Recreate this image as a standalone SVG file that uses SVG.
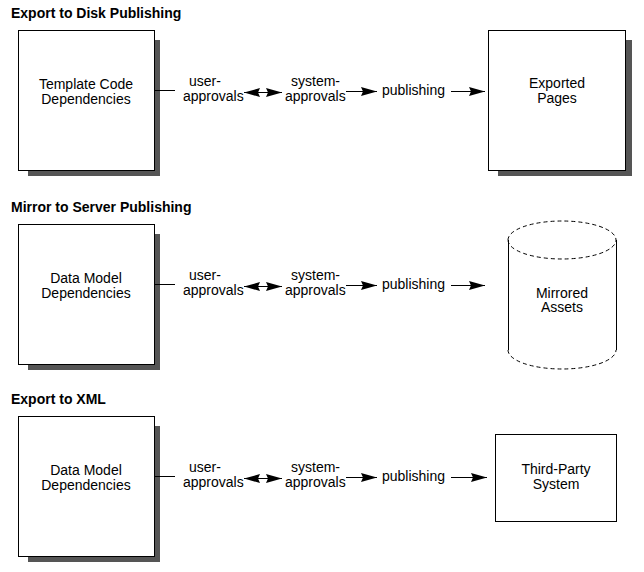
<svg xmlns="http://www.w3.org/2000/svg" width="644" height="572" viewBox="0 0 644 572">
<style>
.title{font-family:"Liberation Sans",Arial,sans-serif;font-size:14px;font-weight:bold;fill:#000}
.lbl{font-family:"Liberation Sans",Arial,sans-serif;font-size:14px;fill:#000}
.mid{text-anchor:middle}
.box{fill:#fff;stroke:#000;stroke-width:1}
.shadow{fill:#555;stroke:none}
.ln{stroke:#000;stroke-width:1;fill:none}
.dash{stroke:#000;stroke-width:1;fill:none;stroke-dasharray:4,3}
</style>
<defs>
<marker id="ah" viewBox="0 0 16 9" refX="16" refY="4.5" markerWidth="16" markerHeight="9" markerUnits="userSpaceOnUse" orient="auto-start-reverse">
<path d="M0,0 L16,4.5 L0,9 L2,4.5 Z" fill="#000"/>
</marker>
</defs>
<rect width="644" height="572" fill="#fff"/>

<text class="title" x="11" y="18">Export to Disk Publishing</text>
<text class="title" x="11" y="212">Mirror to Server Publishing</text>
<text class="title" x="11" y="404">Export to XML</text>

<g id="template-code">
<rect class="shadow" x="28" y="40" width="132" height="136"/>
<rect class="box" x="18.5" y="30.5" width="136" height="140"/>
<text class="lbl mid" x="86" y="89">Template Code</text>
<text class="lbl mid" x="86" y="103.5">Dependencies</text>
</g>
<g id="exported-pages">
<rect class="shadow" x="498" y="40" width="134" height="136"/>
<rect class="box" x="488.5" y="30.5" width="137" height="140"/>
<text class="lbl mid" x="557" y="88">Exported</text>
<text class="lbl mid" x="557" y="102.5">Pages</text>
</g>

<g id="data-model-1">
<rect class="shadow" x="28" y="234" width="132" height="136"/>
<rect class="box" x="18.5" y="224.5" width="136" height="140"/>
<text class="lbl mid" x="86" y="283">Data Model</text>
<text class="lbl mid" x="86" y="297.5">Dependencies</text>
</g>
<g id="mirrored-assets">
<path class="dash" d="M508,240 A54,19 0 0 1 616,240 A54,19 0 0 1 508,240 Z"/>
<path class="ln" d="M508.5,240 V350 M616.5,240 V350"/>
<path class="dash" d="M508,350 A54,19 0 0 0 616,350"/>
<text class="lbl mid" x="562" y="297.5">Mirrored</text>
<text class="lbl mid" x="562" y="312">Assets</text>
</g>

<g id="data-model-2">
<rect class="shadow" x="28" y="426" width="132" height="136"/>
<rect class="box" x="18.5" y="416.5" width="136" height="140"/>
<text class="lbl mid" x="86" y="475">Data Model</text>
<text class="lbl mid" x="86" y="489.5">Dependencies</text>
</g>
<g id="third-party">
<rect class="box" x="495.5" y="434.5" width="121" height="87"/>
<text class="lbl mid" x="556" y="474">Third-Party</text>
<text class="lbl mid" x="556" y="488.5">System</text>
</g>

<g id="connectors">
<line class="ln" x1="154" y1="90.5" x2="175" y2="90.5"/>
<line class="ln" x1="244" y1="92.5" x2="282" y2="92.5" marker-start="url(#ah)" marker-end="url(#ah)"/>
<line class="ln" x1="346" y1="91.5" x2="377" y2="91.5" marker-end="url(#ah)"/>
<line class="ln" x1="451" y1="91.5" x2="485" y2="91.5" marker-end="url(#ah)"/>

<line class="ln" x1="154" y1="284.5" x2="175" y2="284.5"/>
<line class="ln" x1="244" y1="286.5" x2="282" y2="286.5" marker-start="url(#ah)" marker-end="url(#ah)"/>
<line class="ln" x1="346" y1="285.5" x2="377" y2="285.5" marker-end="url(#ah)"/>
<line class="ln" x1="451" y1="285.5" x2="485" y2="285.5" marker-end="url(#ah)"/>

<line class="ln" x1="154" y1="476.5" x2="175" y2="476.5"/>
<line class="ln" x1="244" y1="478.5" x2="282" y2="478.5" marker-start="url(#ah)" marker-end="url(#ah)"/>
<line class="ln" x1="346" y1="477.5" x2="377" y2="477.5" marker-end="url(#ah)"/>
<line class="ln" x1="451" y1="477.5" x2="487" y2="477.5" marker-end="url(#ah)"/>
</g>

<g id="labels">
<text class="lbl" x="189" y="86">user-</text>
<text class="lbl" x="183" y="100.5">approvals</text>
<text class="lbl" x="291" y="86">system-</text>
<text class="lbl" x="285" y="100.5">approvals</text>
<text class="lbl" x="382" y="94.5">publishing</text>

<text class="lbl" x="189" y="280">user-</text>
<text class="lbl" x="183" y="294.5">approvals</text>
<text class="lbl" x="291" y="280">system-</text>
<text class="lbl" x="285" y="294.5">approvals</text>
<text class="lbl" x="382" y="288.5">publishing</text>

<text class="lbl" x="189" y="472">user-</text>
<text class="lbl" x="183" y="486.5">approvals</text>
<text class="lbl" x="291" y="472">system-</text>
<text class="lbl" x="285" y="486.5">approvals</text>
<text class="lbl" x="382" y="480.5">publishing</text>
</g>
</svg>
